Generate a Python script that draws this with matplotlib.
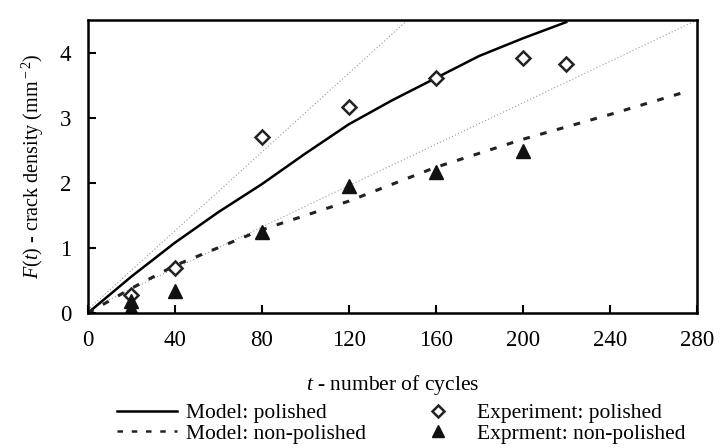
import matplotlib
matplotlib.use("Agg")
import matplotlib.pyplot as plt
from matplotlib.lines import Line2D

plt.rcParams['font.family'] = ['Liberation Serif', 'DejaVu Serif']
plt.rcParams['mathtext.fontset'] = 'custom'
plt.rcParams['mathtext.it'] = 'Liberation Serif:italic'
plt.rcParams['mathtext.rm'] = 'Liberation Serif'

# Model curves
model_pol_t = [0, 20, 40, 60, 80, 100, 120, 140, 160, 180, 200, 220]
model_pol_f = [0, 0.56, 1.08, 1.55, 1.98, 2.45, 2.9, 3.27, 3.61, 3.95, 4.22, 4.47]
model_non_t = [0, 20, 40, 80, 120, 160, 200, 240, 275]
model_non_f = [0, 0.38, 0.73, 1.28, 1.72, 2.24, 2.67, 3.05, 3.40]

# Experiments
exp_pol_t = [20, 40, 80, 120, 160, 200, 220]
exp_pol_f = [0.28, 0.70, 2.70, 3.17, 3.61, 3.92, 3.82]
exp_non_t = [20, 20, 40, 80, 120, 160, 200]
exp_non_f = [0.08, 0.19, 0.34, 1.24, 1.95, 2.17, 2.49]

# Thin dotted reference lines
ref1_t = [0, 147]
ref1_f = [0.05, 4.5]
ref2_t = [0, 280]
ref2_f = [0.05, 4.5]

xticks = [0, 40, 80, 120, 160, 200, 240, 280]
yticks = [0, 1, 2, 3, 4]

fig = plt.figure(figsize=(7.25, 4.48), dpi=100)
ax = fig.add_axes([0.121, 0.301, 0.84, 0.654])

ax.plot(ref1_t, ref1_f, color='#999999', lw=0.8, ls=(0, (1, 2)))
ax.plot(ref2_t, ref2_f, color='#999999', lw=0.8, ls=(0, (1, 2)))
ax.plot(model_pol_t, model_pol_f, color='black', lw=1.8)
ax.plot(model_non_t, model_non_f, color='#222222', lw=2.2, ls=(0, (2.2, 3.5)))
ax.plot(exp_pol_t, exp_pol_f, ls='none', marker='D', ms=7.5, mfc='white',
        mec='#222222', mew=1.8)
ax.plot(exp_non_t, exp_non_f, ls='none', marker='^', ms=9.5, mfc='#111111',
        mec='#111111')

ax.set_xlim(0, 280)
ax.set_ylim(0, 4.5)
ax.set_xticks(xticks)
ax.set_yticks(yticks)
ax.tick_params(direction='in', length=6, width=1.5, labelsize=16.5, pad=12, axis='x')
ax.tick_params(direction='in', length=6, width=1.5, labelsize=16.5, pad=12, axis='y')
for s in ax.spines.values():
    s.set_linewidth(1.8)

ax.set_xlabel(r'$\it{t}$ - number of cycles', fontsize=15.5, labelpad=16)
ax.set_ylabel(r'$\it{F(t)}$ - crack density (mm$^{\rm -2}$)', fontsize=14.5, labelpad=10)

handles = [
    Line2D([], [], color='black', lw=1.8),
    Line2D([], [], color='#222222', lw=1.8, ls=(0, (2.2, 3.5))),
    Line2D([], [], ls='none', marker='D', ms=6, mfc='white', mec='#222222', mew=1.8),
    Line2D([], [], ls='none', marker='^', ms=8, mfc='#111111', mec='#111111'),
]
labels = ['Model: polished', 'Model: non-polished',
          'Experiment: polished', 'Exprment: non-polished']
fig.legend(handles, labels, ncol=2, loc='lower left', bbox_to_anchor=(0.134, -0.034),
           frameon=False, fontsize=15.5, handlelength=2.8, handletextpad=0.45,
           columnspacing=1.9, labelspacing=0.02)

fig.savefig('out.png', dpi=100)
